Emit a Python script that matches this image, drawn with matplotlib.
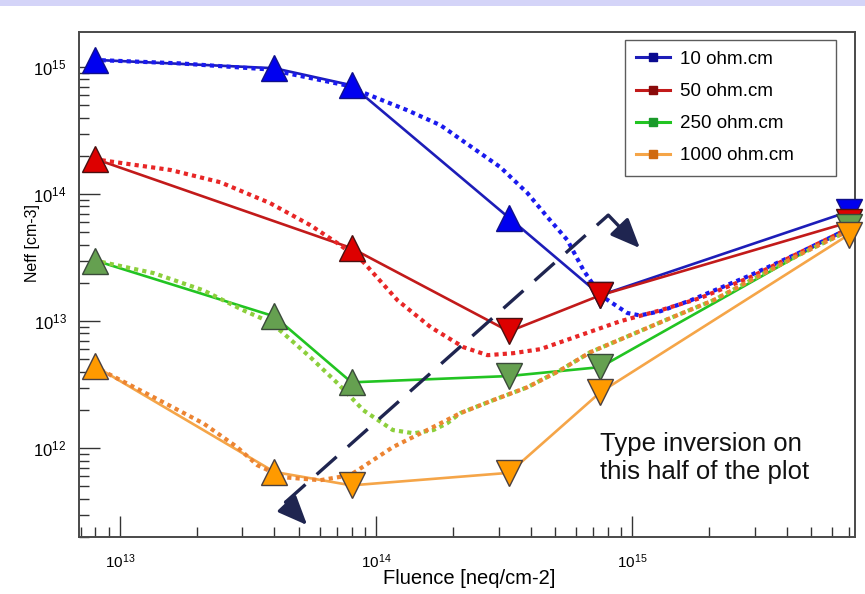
import numpy as np
import matplotlib
matplotlib.use('Agg')
import matplotlib.pyplot as plt
from matplotlib.lines import Line2D
from matplotlib.patches import Rectangle
from matplotlib.ticker import LogLocator, LogFormatterMathtext, NullFormatter

plt.rcParams['font.family'] = 'Liberation Sans'
plt.rcParams['mathtext.fontset'] = 'custom'
plt.rcParams['mathtext.rm'] = 'Liberation Sans'
plt.rcParams['mathtext.it'] = 'Liberation Sans:italic'

# resistivity series
labels = ['10 ohm.cm', '50 ohm.cm', '250 ohm.cm', '1000 ohm.cm']

# measured Neff [cm-3] vs fluence [neq/cm2]
fluence_10 = [8e12, 4e13, 8e13, 3.3e14, 7.5e14, 7e15]
neff_10 = [1.14e15, 9.8e14, 7.2e14, 6.5e13, 1.6e13, 7.3e13]
sign_10 = ['^', '^', '^', '^', 'v', 'v']

fluence_50 = [8e12, 8e13, 3.3e14, 7.5e14, 7e15]
neff_50 = [1.89e14, 3.76e13, 8.3e12, 1.6e13, 6.0e13]
sign_50 = ['^', '^', 'v', 'v', 'v']

fluence_250 = [8e12, 4e13, 8e13, 3.3e14, 7.5e14, 7e15]
neff_250 = [3.0e13, 1.09e13, 3.3e12, 3.7e12, 4.35e12, 5.5e13]
sign_250 = ['^', '^', '^', 'v', 'v', 'v']

fluence_1000 = [8e12, 4e13, 8e13, 3.3e14, 7.5e14, 7e15]
neff_1000 = [4.4e12, 6.5e11, 5.1e11, 6.4e11, 2.76e12, 4.8e13]
sign_1000 = ['^', '^', 'v', 'v', 'v', 'v']

# model curves (dotted)
model_x_10 = [7.85e12, 1.71e13, 3.78e13, 7.9e13, 8.8e13, 1.32e14, 1.78e14, 2.39e14,
              3.05e14, 3.89e14, 4.66e14, 5.57e14, 6.44e14, 7.5e14, 9.55e14, 1.07e15,
              1.29e15, 1.69e15, 2.89e15, 4.53e15, 6.8e15]
model_y_10 = [1.14e15, 1.07e15, 9.6e14, 7.08e14, 6.35e14, 4.58e14, 3.49e14, 2.30e14,
              1.63e14, 1.02e14, 6.59e13, 4.35e13, 2.52e13, 1.60e13, 1.16e13, 1.11e13,
              1.20e13, 1.46e13, 2.30e13, 3.49e13, 5.21e13]

model_x_50 = [7.85e12, 1.57e13, 2.46e13, 3.85e13, 5.52e13, 7.05e13, 8.9e13, 1.21e14,
              1.63e14, 2.19e14, 2.72e14, 3.43e14, 4.37e14, 6.27e14, 8.98e14, 1.29e15,
              1.84e15, 2.89e15, 4.53e15, 6.8e15]
model_y_50 = [1.89e14, 1.55e14, 1.24e14, 8.49e13, 5.70e13, 4.11e13, 2.92e13, 1.46e13,
              8.97e12, 6.24e12, 5.40e12, 5.60e12, 6.02e12, 7.76e12, 1.0e13, 1.22e13,
              1.52e13, 2.22e13, 3.49e13, 5.21e13]

model_x_250 = [7.85e12, 1.35e13, 2.11e13, 3.02e13, 3.85e13, 4.33e13, 5.52e13, 7.05e13,
               8.9e13, 1.16e14, 1.40e14, 1.67e14, 1.89e14, 2.13e14, 2.86e14, 3.89e14,
               5.23e14, 6.85e14, 9.82e14, 1.41e15, 2.07e15, 3.16e15, 4.53e15, 6.8e15]
model_y_250 = [3.02e13, 2.39e13, 1.75e13, 1.22e13, 9.83e12, 8.05e12, 5.21e12, 3.25e12,
               1.99e12, 1.39e12, 1.31e12, 1.39e12, 1.57e12, 1.89e12, 2.39e12, 3.02e12,
               4.11e12, 5.70e12, 7.76e12, 1.06e13, 1.46e13, 2.30e13, 3.37e13, 5.02e13]

model_x_1000 = [7.85e12, 1.35e13, 2.11e13, 2.86e13, 3.43e13, 4.33e13, 6.04e13, 7.9e13,
                9.06e13, 1.16e14, 1.58e14, 2.13e14, 2.86e14, 3.89e14, 5.23e14, 6.85e14,
                9.82e14, 1.41e15, 2.07e15, 3.16e15, 4.53e15, 6.8e15]
model_y_1000 = [4.43e12, 2.52e12, 1.57e12, 1.02e12, 7.35e11, 5.91e11, 5.60e11, 6.13e11,
                7.35e11, 1.02e12, 1.39e12, 1.89e12, 2.39e12, 3.02e12, 4.11e12, 5.70e12,
                7.76e12, 1.06e13, 1.46e13, 2.30e13, 3.37e13, 5.02e13]

# bent double-headed arrow marking the inversion boundary
arrow_low_tip = (5.37e13, 2.48e11)
arrow_low_bend = (4.42e13, 3.76e11)
arrow_high_bend = (8.05e14, 6.84e13)
arrow_high_tip = (1.07e15, 3.76e13)

series = [
    (fluence_10, neff_10, sign_10, model_x_10, model_y_10),
    (fluence_50, neff_50, sign_50, model_x_50, model_y_50),
    (fluence_250, neff_250, sign_250, model_x_250, model_y_250),
    (fluence_1000, neff_1000, sign_1000, model_x_1000, model_y_1000),
]
line_colors = ['#1d1db8', '#c21a1a', '#22c422', '#f5a548']
dot_colors = ['#1a1aee', '#e82626', '#8ccf3c', '#ec8432']
face_colors = ['#0000f0', '#dd0000', '#65a050', '#ff9a00']
edge_colors = ['#10108a', '#4a1010', '#3a4a3a', '#4a4040']
legend_marker = ['#0a0a90', '#8a0a0a', '#1a9a2a', '#d06a10']
navy = '#1f2550'

fig = plt.figure(figsize=(8.65, 5.94), dpi=100)
fig.add_artist(Rectangle((0, 1 - 6 / 594), 1, 6 / 594, transform=fig.transFigure,
                         facecolor='#d4d4f8', edgecolor='none'))
ax = fig.add_axes([79 / 865, 57 / 594, 776 / 865, 505 / 594])
ax.set_xscale('log')
ax.set_yscale('log')
ax.set_xlim(6.9e12, 7.4e15)
ax.set_ylim(2e11, 1.89e15)

for i, (fx, fy, signs, mx, my) in enumerate(series):
    ax.plot(fx, fy, '-', color=line_colors[i], lw=1.9, zorder=2)
    ax.plot(mx, my, linestyle=(0, (1, 1)), color=dot_colors[i], lw=3.0, zorder=3)
    for m in ['^', 'v']:
        px = [x for x, s in zip(fx, signs) if s == m]
        py = [y for y, s in zip(fy, signs) if s == m]
        ax.plot(px, py, m, ms=19, mfc=face_colors[i], mec=edge_colors[i], mew=1.0,
                linestyle='None', zorder=5 + i, clip_on=False)

# dashed boundary with arrowheads at both bent ends
ax.plot([arrow_low_bend[0], arrow_high_bend[0]], [arrow_low_bend[1], arrow_high_bend[1]],
        color=navy, lw=2.4, dashes=(8, 4.5), zorder=4)
head = dict(arrowstyle='-|>,head_length=0.9,head_width=0.38', color=navy, lw=2.4,
            mutation_scale=20, shrinkA=0, shrinkB=0)
ax.annotate('', xy=arrow_high_tip, xytext=arrow_high_bend, arrowprops=head, zorder=4)
ax.annotate('', xy=arrow_low_tip, xytext=arrow_low_bend, arrowprops=head, zorder=4)

ax.text(0.672, 0.207, 'Type inversion on\nthis half of the plot', transform=ax.transAxes,
        fontsize=18.5, va='top', ha='left', linespacing=1.2, color='#111111')

# axes styling
for sp in ax.spines.values():
    sp.set_color('#4a4a4a')
    sp.set_linewidth(1.4)
ax.xaxis.set_major_locator(LogLocator(base=10))
ax.yaxis.set_major_locator(LogLocator(base=10))
ax.xaxis.set_minor_locator(LogLocator(base=10, subs=np.arange(2, 10)))
ax.yaxis.set_minor_locator(LogLocator(base=10, subs=np.arange(2, 10)))
ax.xaxis.set_major_formatter(LogFormatterMathtext())
ax.yaxis.set_major_formatter(LogFormatterMathtext())
ax.xaxis.set_minor_formatter(NullFormatter())
ax.yaxis.set_minor_formatter(NullFormatter())
ax.tick_params(which='both', direction='in', top=False, right=False, color='#333333', width=1.0)
ax.tick_params(which='major', length=15)
ax.tick_params(which='minor', length=7)
ax.tick_params(axis='x', which='major', pad=11, labelsize=11)
ax.tick_params(axis='y', which='major', pad=9, labelsize=12)

ax.set_xlabel('Fluence [neq/cm-2]', fontsize=14.5)
ax.xaxis.set_label_coords(0.503, -0.064)
ax.set_ylabel('Neff [cm-3]', fontsize=11.5)
ax.yaxis.set_label_coords(-0.05, 0.582)

handles = [Line2D([0], [0], color=line_colors[i], lw=2.2, marker='s', ms=6,
                  mfc=legend_marker[i], mec=legend_marker[i]) for i in range(4)]
leg = ax.legend(handles, labels, loc='upper left', bbox_to_anchor=(0.703, 0.975, 0.272, 0.01),
                mode='expand', fontsize=13.5, frameon=True, fancybox=False,
                handlelength=1.8, handletextpad=0.55, labelspacing=0.8, borderpad=0.6,
                borderaxespad=0)
leg.get_frame().set_edgecolor('#333333')
leg.get_frame().set_linewidth(1.0)
leg.set_zorder(10)

fig.savefig('out.png', dpi=100)
